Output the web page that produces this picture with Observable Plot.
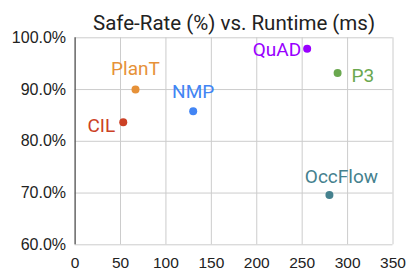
<!DOCTYPE html>
<html>
<head>
<meta charset="utf-8">
<script src="https://cdn.jsdelivr.net/npm/d3@7"></script>
<script src="https://cdn.jsdelivr.net/npm/@observablehq/plot@0.6"></script>
<style>
  html, body { margin: 0; padding: 0; background: #fff; }
  #chart svg { display: block; }
</style>
</head>
<body>
<div id="chart"></div>
<script>
const methods = ["CIL", "PlanT", "NMP", "QuAD", "P3", "OccFlow"];
const runtimeMs = [53, 66.5, 130, 255.5, 289, 280];
const safeRate = [83.7, 90.0, 85.8, 97.9, 93.2, 69.6];
const colors = ["#cc4125", "#e69138", "#4285f4", "#9900ff", "#6aa84f", "#45818e"];
const xTicks = [0, 50, 100, 150, 200, 250, 300, 350];
const yTicks = [60, 70, 80, 90, 100];
const title = "Safe-Rate (%) vs. Runtime (ms)";

const data = methods.map((m, i) => ({ method: m, runtime: runtimeMs[i], rate: safeRate[i], color: colors[i] }));

// label placement (styling)
const labelPos = {
  CIL: { anchor: "end", dx: -8, dy: 4 },
  PlanT: { anchor: "middle", dx: 0, dy: -21 },
  NMP: { anchor: "middle", dx: 0, dy: -19 },
  QuAD: { anchor: "end", dx: -6, dy: 1 },
  P3: { anchor: "start", dx: 14, dy: 3 },
  OccFlow: { anchor: "middle", dx: 12, dy: -18 }
};

const labelMarks = data.map(d => Plot.text([d], {
  x: "runtime", y: "rate", text: "method", fill: d.color,
  textAnchor: labelPos[d.method].anchor, dx: labelPos[d.method].dx, dy: labelPos[d.method].dy,
  fontSize: 19, fontFamily: "Roboto"
}));

const chart = Plot.plot({
  width: 407,
  height: 274,
  marginLeft: 74.6,
  marginRight: 14.5,
  marginTop: 37.3,
  marginBottom: 29.7,
  style: { fontFamily: "Roboto", background: "#fff", overflow: "visible" },
  x: { domain: [0, 350] },
  y: { domain: [60, 100] },
  marks: [
    Plot.gridX(xTicks, { stroke: "#cccccc", strokeOpacity: 1, strokeWidth: 1 }),
    Plot.gridY(yTicks, { stroke: "#cccccc", strokeOpacity: 1, strokeWidth: 1 }),
    Plot.ruleX([0], { stroke: "#333333", strokeWidth: 1 }),
    Plot.axisX(xTicks, { tickSize: 0, tickPadding: 12, fontSize: 15.5, fontFamily: "Liberation Sans, Arial, sans-serif", fill: "#222", label: null }),
    Plot.axisY(yTicks, { tickSize: 0, tickPadding: 9, fontSize: 16, fontFamily: "Liberation Sans, Arial, sans-serif", fill: "#222", label: null, tickFormat: d => d.toFixed(1) + "%" }),
    Plot.dot(data, { x: "runtime", y: "rate", r: 4, fill: "color", stroke: null }),
    ...labelMarks,
    Plot.text([title], { frameAnchor: "top", dy: -22.3, fontSize: 20.5, fontFamily: "Roboto", fill: "#222" })
  ]
});
document.getElementById("chart").appendChild(chart);
</script>
</body>
</html>
